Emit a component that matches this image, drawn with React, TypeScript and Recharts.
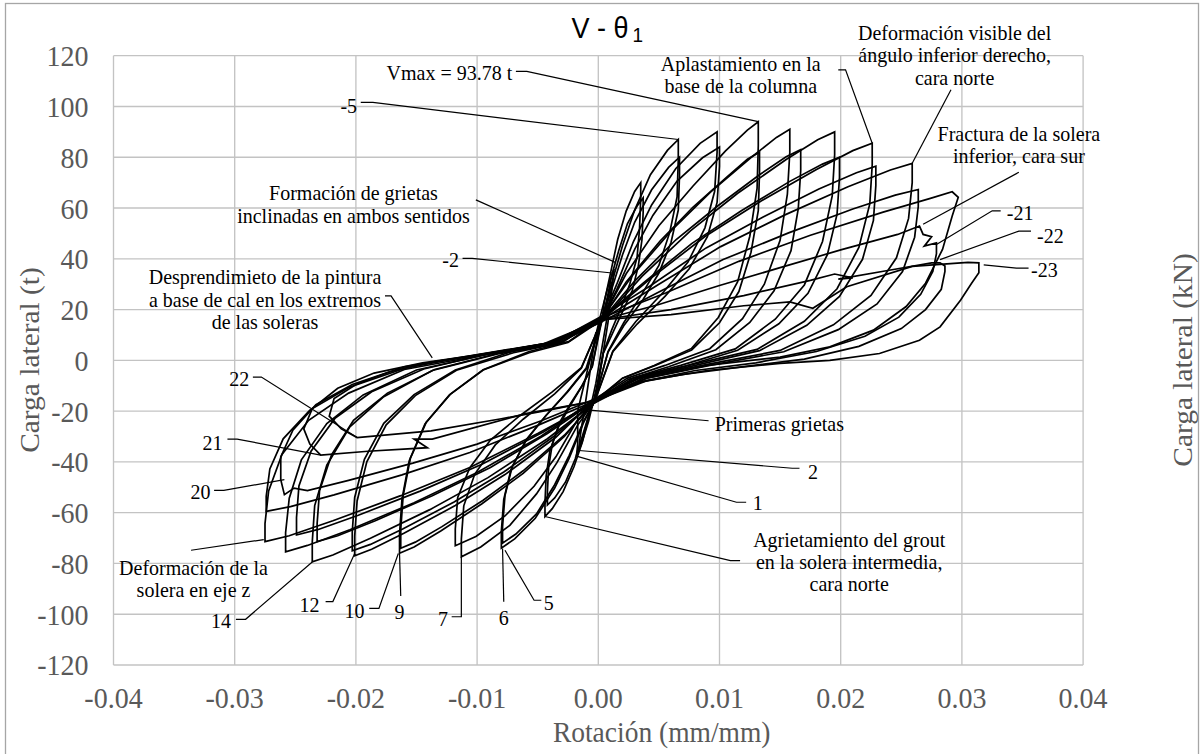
import React from 'react';
import { ComposedChart, Line, Scatter, XAxis, YAxis, CartesianGrid } from 'recharts';

type Pt = [number, number];

const xTicks = [-0.04, -0.03, -0.02, -0.01, 0, 0.01, 0.02, 0.03, 0.04];
const yTicks = [-120, -100, -80, -60, -40, -20, 0, 20, 40, 60, 80, 100, 120];
const kNTicks = [-1200, -1000, -800, -600, -400, -200, 0, 200, 400, 600, 800, 1000, 1200];

// Hysteresis cycles: rotation (mm/mm), lateral load (t)
const cyc01: Pt[] = [[-0.0002,9],[0.0004,18],[0.0009,27],[0.0011,30],[0.0011,27],[0.0008,15],[0.0003,0],[-0.0002,-12],[-0.0008,-24],[-0.0014,-33],[-0.0018,-37.7],[-0.0017,-33],[-0.0017,-20],[-0.0012,-10],[-0.0007,0],[-0.0002,9]];
const cyc02: Pt[] = [[-0.0002,10],[0.0002,18],[0.0008,29],[0.0013,36],[0.0012,31],[0.0008,19],[0.0003,5],[-0.0002,-9],[-0.0008,-22],[-0.0013,-31],[-0.0016,-35.5],[-0.0015,-30],[-0.0011,-18],[-0.0007,-5],[-0.0002,11]];
const cyc03: Pt[] = [[0.0003,16],[0.0005,23.1],[0.0011,36.4],[0.0016,47.6],[0.0023,58.8],[0.003,66.5],[0.0035,70],[0.0035,63.7],[0.0034,51.8],[0.0032,40.6],[0.0026,30.1],[0.0019,21],[0.0011,11.9],[0.0004,2.8],[-0.0003,-16],[-0.0007,-20.3],[-0.0013,-32],[-0.002,-41.8],[-0.0029,-51.7],[-0.0038,-58.4],[-0.0044,-61.5],[-0.0044,-56],[-0.0043,-45.5],[-0.004,-35.7],[-0.0033,-26.4],[-0.0024,-18.5],[-0.0014,-10.5],[-0.0005,-2.5],[0.0003,16]];
const cyc04: Pt[] = [[0.0002,15],[0.0006,21.1],[0.0011,33.3],[0.0017,43.5],[0.0024,53.8],[0.0032,60.8],[0.0037,64],[0.0037,58.2],[0.0036,47.4],[0.0033,37.1],[0.0028,27.5],[0.002,19.2],[0.0012,10.9],[0.0004,2.6],[-0.0002,-15],[-0.0006,-18.8],[-0.0013,-29.6],[-0.0019,-38.8],[-0.0027,-47.9],[-0.0036,-54.2],[-0.0042,-57],[-0.0042,-51.9],[-0.0041,-42.2],[-0.0038,-33.1],[-0.0032,-24.5],[-0.0023,-17.1],[-0.0013,-9.7],[-0.0005,-2.3],[0.0002,15]];
const cyc05: Pt[] = [[0.0003,16],[0.001,28.7],[0.002,45.2],[0.003,59.2],[0.0043,73.1],[0.0057,82.7],[0.0066,87],[0.0066,79.2],[0.0065,64.4],[0.0059,50.5],[0.005,37.4],[0.0036,26.1],[0.0021,14.8],[0.0008,3.5],[-0.0003,-16],[-0.0012,-24.4],[-0.0024,-38.5],[-0.0036,-50.3],[-0.0052,-62.2],[-0.0069,-70.3],[-0.008,-74],[-0.008,-67.3],[-0.0078,-54.8],[-0.0072,-42.9],[-0.006,-31.8],[-0.0044,-22.2],[-0.0026,-12.6],[-0.001,-3],[0.0003,16]];
const cyc06: Pt[] = [[0.0004,17],[0.001,26.4],[0.002,41.6],[0.003,54.4],[0.0044,67.2],[0.0058,76],[0.0067,80],[0.0067,72.8],[0.0066,59.2],[0.006,46.4],[0.005,34.4],[0.0037,24],[0.0021,13.6],[0.0008,3.2],[-0.0004,-17],[-0.0012,-23.8],[-0.0024,-37.4],[-0.0036,-49],[-0.0051,-60.5],[-0.0068,-68.4],[-0.0079,-72],[-0.0079,-65.5],[-0.0077,-53.3],[-0.0071,-41.8],[-0.0059,-31],[-0.0043,-21.6],[-0.0025,-12.2],[-0.0009,-2.9],[0.0004,17]];
const cyc07: Pt[] = [[0.0003,16],[0.0015,29.7],[0.0029,46.8],[0.0044,61.2],[0.0064,75.6],[0.0084,85.5],[0.0098,90],[0.0098,81.9],[0.0096,66.6],[0.0088,52.2],[0.0074,38.7],[0.0054,27],[0.0031,15.3],[0.0012,3.6],[-0.0003,-16],[-0.0017,-25.5],[-0.0034,-40.2],[-0.0051,-52.6],[-0.0073,-65],[-0.0097,-73.5],[-0.0113,-77.4],[-0.0113,-70.4],[-0.0111,-57.3],[-0.0102,-44.9],[-0.0085,-33.3],[-0.0062,-23.2],[-0.0036,-13.2],[-0.0014,-3.1],[0.0003,16]];
const cyc08: Pt[] = [[0.0005,18],[0.0015,27.7],[0.003,43.7],[0.0045,57.1],[0.0065,70.6],[0.0086,79.8],[0.01,84],[0.01,76.4],[0.0098,62.2],[0.009,48.7],[0.0075,36.1],[0.0055,25.2],[0.0032,14.3],[0.0012,3.4],[-0.0002,-15],[-0.0018,-24.1],[-0.0035,-38],[-0.0053,-49.6],[-0.0077,-61.3],[-0.0101,-69.4],[-0.0118,-73],[-0.0118,-66.4],[-0.0116,-54],[-0.0106,-42.3],[-0.0089,-31.4],[-0.0065,-21.9],[-0.0038,-12.4],[-0.0014,-2.9],[0.0005,18]];
const cyc09: Pt[] = [[0.0003,16],[0.0023,34.1],[0.005,53],[0.0078,68.6],[0.0105,82.5],[0.0123,90.7],[0.0132,94],[0.0132,84.6],[0.0131,67.7],[0.0125,48.9],[0.0115,31],[0.0099,16.9],[0.0077,4.7],[0.0046,-2],[0.002,-7],[-0.0003,-16],[-0.0028,-30],[-0.0062,-44.5],[-0.0096,-56.5],[-0.013,-67.2],[-0.0152,-73.5],[-0.0164,-76],[-0.0164,-68.4],[-0.0162,-54.7],[-0.0156,-39.5],[-0.0143,-25.1],[-0.0123,-13.7],[-0.0095,-3.8],[-0.0057,3],[-0.0025,7],[0.0003,16]];
const cyc10: Pt[] = [[0.0004,17],[0.0023,30.9],[0.0051,47],[0.0078,60.3],[0.0106,72.2],[0.0123,79.2],[0.0133,82],[0.0133,73.8],[0.0132,59],[0.0126,42.6],[0.0116,27.1],[0.01,14.8],[0.0077,4.1],[0.0047,-2],[0.002,-7],[-0.0004,-17],[-0.0028,-29.5],[-0.0062,-43.5],[-0.0095,-55.1],[-0.0129,-65.5],[-0.0151,-71.6],[-0.0163,-74],[-0.0163,-66.6],[-0.0161,-53.3],[-0.0155,-38.5],[-0.0142,-24.4],[-0.0122,-13.3],[-0.0095,-3.7],[-0.0057,3.5],[-0.0024,7.5],[0.0004,17]];
const cyc11: Pt[] = [[0.0005,18],[0.0028,33.3],[0.0061,51.5],[0.0093,66.5],[0.0126,79.9],[0.0147,87.8],[0.0158,91],[0.0158,81.9],[0.0156,65.5],[0.015,47.3],[0.0137,30],[0.0119,16.4],[0.0092,4.6],[0.0055,-2],[0.0024,-7],[-0.0002,-15],[-0.0035,-30.3],[-0.0077,-45],[-0.0118,-57.2],[-0.016,-68],[-0.0187,-74.4],[-0.0201,-77],[-0.0201,-69.3],[-0.0199,-55.4],[-0.0191,-40],[-0.0175,-25.4],[-0.0151,-13.9],[-0.0117,-3.9],[-0.007,3],[-0.003,7],[0.0005,18]];
const cyc12: Pt[] = [[0.0003,16],[0.003,31.2],[0.0064,47.5],[0.0099,61],[0.0133,73.1],[0.0155,80.2],[0.0167,83],[0.0167,74.7],[0.0165,59.8],[0.0159,43.2],[0.0145,27.4],[0.0125,14.9],[0.0097,4.2],[0.0058,-2.5],[0.0025,-7.5],[-0.0003,-16],[-0.0036,-29.7],[-0.0078,-44],[-0.0119,-55.8],[-0.0161,-66.3],[-0.0188,-72.5],[-0.0203,-75],[-0.0203,-67.5],[-0.0201,-54],[-0.0193,-39],[-0.0177,-24.8],[-0.0152,-13.5],[-0.0118,-3.8],[-0.0071,3.5],[-0.003,7.5],[0.0003,16]];
const cyc13: Pt[] = [[0.0002,15],[0.0036,33.1],[0.0076,51],[0.0115,65.8],[0.0155,79.1],[0.0181,86.9],[0.0195,90],[0.0195,81],[0.0193,64.8],[0.0185,46.8],[0.017,29.7],[0.0146,16.2],[0.0113,4.5],[0.0068,-2],[0.0029,-7],[-0.0004,-17],[-0.0042,-30.9],[-0.0091,-46.2],[-0.0139,-58.8],[-0.0188,-70.1],[-0.0219,-76.7],[-0.0236,-79.4],[-0.0236,-71.5],[-0.0234,-57.2],[-0.0224,-41.3],[-0.0205,-26.2],[-0.0177,-14.3],[-0.0137,-4],[-0.0083,2.5],[-0.0035,6.5],[0.0002,15]];
const cyc14: Pt[] = [[0.0004,17],[0.0037,30.4],[0.0077,46],[0.0118,58.9],[0.0158,70.5],[0.0185,77.3],[0.0199,80],[0.0199,72],[0.0197,57.6],[0.0189,41.6],[0.0173,26.4],[0.0149,14.4],[0.0115,4],[0.007,-2.5],[0.003,-7.5],[-0.0003,-16],[-0.0042,-28.8],[-0.0089,-42.2],[-0.0137,-53.3],[-0.0184,-63.2],[-0.0215,-69.1],[-0.0232,-71.4],[-0.0232,-64.3],[-0.023,-51.4],[-0.022,-37.1],[-0.0202,-23.6],[-0.0174,-12.9],[-0.0135,-3.6],[-0.0081,3],[-0.0035,7],[0.0004,17]];
const cyc15: Pt[] = [[0.0003,16],[0.0042,31.8],[0.0088,48.8],[0.0134,62.7],[0.018,75.2],[0.021,82.6],[0.0226,85.5],[0.0226,77],[0.0224,61.6],[0.0215,44.5],[0.0197,28.2],[0.017,15.4],[0.0131,4.3],[0.0079,-1.5],[0.0034,-6.5],[-0.0002,-15],[-0.0047,-29.8],[-0.01,-44.2],[-0.0152,-56.1],[-0.0205,-66.7],[-0.024,-72.9],[-0.0258,-75.4],[-0.0258,-67.9],[-0.0255,-54.3],[-0.0245,-39.2],[-0.0224,-24.9],[-0.0194,-13.6],[-0.015,-3.8],[-0.009,2.5],[-0.0039,6.5],[0.0003,16]];
const cyc16: Pt[] = [[0.0005,18],[0.0043,29.4],[0.0089,44.3],[0.0136,56.5],[0.0182,67.5],[0.0213,73.9],[0.0229,76.5],[0.0229,68.9],[0.0227,55.1],[0.0218,39.8],[0.0199,25.2],[0.0172,13.8],[0.0133,3.8],[0.008,-2],[0.0034,-7],[-0.0003,-16],[-0.0045,-28.1],[-0.0096,-40.9],[-0.0147,-51.5],[-0.0198,-61],[-0.0231,-66.6],[-0.0249,-68.8],[-0.0249,-61.9],[-0.0247,-49.5],[-0.0237,-35.8],[-0.0217,-22.7],[-0.0187,-12.4],[-0.0144,-3.4],[-0.0087,3],[-0.0037,7],[0.0005,18]];
const cyc17: Pt[] = [[0.0003,16],[0.0049,29.7],[0.0101,44.8],[0.0154,57.3],[0.0206,68.4],[0.0241,75],[0.0259,77.6],[0.0259,70],[0.0256,55.9],[0.0246,40.4],[0.0225,25.6],[0.0194,14],[0.015,3.9],[0.0091,-1.5],[0.0039,-6.5],[-0.0004,-17],[-0.005,-28.8],[-0.0106,-42.2],[-0.0163,-53.3],[-0.0219,-63.2],[-0.0255,-69.1],[-0.0275,-71.4],[-0.0275,-64.3],[-0.0272,-51.4],[-0.0261,-37.1],[-0.0239,-23.6],[-0.0206,-12.9],[-0.016,-3.6],[-0.0096,2],[-0.0041,6],[0.0003,16]];
const cyc18: Pt[] = [[0.0002,15],[0.005,26.9],[0.0103,39.7],[0.0157,50.2],[0.021,59.6],[0.0245,65.1],[0.0264,67.3],[0.0264,60.6],[0.0261,48.5],[0.0251,35],[0.023,22.2],[0.0198,12.1],[0.0153,3.4],[0.0092,-2],[0.004,-7],[-0.0003,-16],[-0.005,-25.6],[-0.0106,-36.3],[-0.0162,-45.1],[-0.0218,-53],[-0.0254,-57.6],[-0.0274,-59.5],[-0.0274,-53.6],[-0.0271,-42.8],[-0.026,-30.9],[-0.0238,-19.6],[-0.0206,-10.7],[-0.0159,-3],[-0.0096,2.5],[-0.0041,6.5],[0.0002,15]];
const cyc19: Pt[] = [[0.0004,17],[0.0056,26.6],[0.0116,39],[0.0175,49.3],[0.0235,58.4],[0.0274,63.8],[0.0292,66.4],[0.0297,64.2],[0.0292,56.9],[0.0284,43.7],[0.027,30.4],[0.0254,21.2],[0.0227,11.9],[0.0191,5.3],[0.015,1.3],[0.009,-2],[0.004,-7],[-0.0002,-15],[-0.0047,-23.8],[-0.01,-33],[-0.0153,-40.5],[-0.0206,-47.3],[-0.024,-51.3],[-0.0251,-50.3],[-0.0259,-52.9],[-0.0262,-47],[-0.0262,-38],[-0.0252,-27.5],[-0.0233,-17.5],[-0.0203,-9.5],[-0.016,-2.6],[-0.0091,3],[-0.0039,7],[0.0004,17]];
const cyc20: Pt[] = [[0.0003,16],[0.005,22],[0.01,29.5],[0.015,36.5],[0.02,43.5],[0.0247,49.6],[0.0265,52.9],[0.0268,49.6],[0.0275,48.7],[0.0269,45],[0.0279,46.3],[0.0279,42],[0.0276,35],[0.0266,26],[0.0248,17],[0.022,9.5],[0.018,3.5],[0.013,-1],[0.008,-4],[0.0035,-8.5],[-0.0003,-16],[-0.006,-21],[-0.0137,-31],[-0.0152,-31],[-0.0141,-34.4],[-0.019,-35.8],[-0.0229,-37.3],[-0.0238,-33],[-0.0243,-27],[-0.0236,-19],[-0.0215,-11],[-0.0185,-5],[-0.0145,-1],[-0.0095,2.5],[-0.0045,6.5],[0.0003,16]];
const cyc21: Pt[] = [[0.0003,16],[0.006,20],[0.012,25.5],[0.0175,31.5],[0.0195,34],[0.021,32.5],[0.0198,32],[0.024,35.5],[0.0275,38.4],[0.0282,38.4],[0.0286,37.2],[0.0286,35],[0.0283,28],[0.027,20],[0.025,12.5],[0.0215,5.5],[0.017,0.5],[0.012,-2.5],[0.007,-5.5],[0.003,-9],[-0.0003,-16],[-0.004,-19.5],[-0.008,-23],[-0.0138,-27.8],[-0.0199,-30.4],[-0.0212,-27],[-0.0222,-22],[-0.0218,-15],[-0.02,-9.5],[-0.0172,-4.5],[-0.0135,-0.5],[-0.0085,3],[-0.004,7],[0.0003,16]];
const cyc22: Pt[] = [[0.0003,16],[0.006,18],[0.012,21.5],[0.0158,23],[0.0177,20.5],[0.0205,29],[0.0259,37],[0.0305,38.6],[0.0314,38.4],[0.0314,34.5],[0.0308,30.4],[0.0299,23.8],[0.0282,13.2],[0.0265,7.9],[0.0232,2.7],[0.0191,0],[0.015,-1.2],[0.009,-4],[0.004,-8],[-0.0003,-16]];

const cycles: Pt[][] = [cyc01, cyc02, cyc03, cyc04, cyc05, cyc06, cyc07, cyc08, cyc09, cyc10, cyc11, cyc12, cyc13, cyc14, cyc15, cyc16, cyc17, cyc18, cyc19, cyc20, cyc21, cyc22];

// Annotation leader lines (data coordinates)
const leaders: Pt[][] = [
  [[-0.0068,113.8],[-0.0059,113.8],[0.0132,94]],
  [[-0.0196,101.6],[-0.0186,101.6],[0.0066,87]],
  [[-0.0101,63.2],[0.0014,38.6]],
  [[-0.0112,40.2],[-0.0104,40.2],[0.00113,34.4]],
  [[-0.0176,25.4],[-0.0171,25.4],[-0.0137,1]],
  [[0.0198,114.4],[0.0204,114.4],[0.0226,85.5]],
  [[0.0291,106.6],[0.0259,77.6]],
  [[0.0347,74.1],[0.0268,53.6]],
  [[0.0332,58.9],[0.0325,58.9],[0.0279,45.6]],
  [[0.0357,50.9],[0.0347,50.9],[0.0282,39.7]],
  [[0.0355,36.3],[0.0345,36.3],[0.0318,37.6]],
  [[-0.0285,-6.6],[-0.0278,-6.6],[-0.0199,-30.4]],
  [[-0.0306,-31],[-0.0298,-31],[-0.0229,-37.3]],
  [[-0.0317,-51.2],[-0.0309,-51.2],[-0.0259,-47]],
  [[-0.0336,-74.8],[-0.0276,-70.6]],
  [[-0.0299,-102],[-0.0291,-102],[-0.0236,-79.4]],
  [[-0.0225,-95],[-0.0219,-95],[-0.0201,-76.1]],
  [[-0.0189,-97.7],[-0.0181,-97.7],[-0.0165,-76.1]],
  [[-0.0163,-92.8],[-0.0164,-76.1]],
  [[-0.0121,-101],[-0.0113,-101],[-0.0113,-77.4]],
  [[-0.0078,-95.1],[-0.0079,-74.1]],
  [[-0.0047,-94.5],[-0.0053,-94.5],[-0.0077,-74.8]],
  [[0.0091,-23.8],[-0.0007,-19.6]],
  [[0.0166,-42.5],[0.016,-42.5],[-0.0016,-35.5]],
  [[0.0122,-55.9],[0.0114,-55.9],[-0.0018,-37.7]],
  [[0.0117,-78.9],[0.0109,-78.9],[-0.0044,-61.5]],
];

// Annotation texts
const notes = [
  { x: -0.0071, y: 113.4, anchor: 'end', first: 0, lines: ['Vmax = 93.78 t'] },
  { x: -0.0199, y: 100.3, anchor: 'end', first: 0, lines: ['-5'] },
  { x: -0.0202, y: 66, anchor: 'middle', first: 0, lines: ['Formación de grietas', 'inclinadas en ambos sentidos'] },
  { x: -0.0115, y: 39.7, anchor: 'end', first: 0, lines: ['-2'] },
  { x: -0.0275, y: 32.9, anchor: 'middle', first: 0, lines: ['Desprendimieto de la pintura', 'a base de cal en los extremos', 'de las soleras'] },
  { x: 0.01175, y: 117.1, anchor: 'middle', first: 0, lines: ['Aplastamiento en la', 'base de la columna'] },
  { x: 0.0294, y: 111.6, anchor: 'middle', first: -2, lines: ['Deformación visible del', 'ángulo inferior derecho,', 'cara norte'] },
  { x: 0.0347, y: 89.5, anchor: 'middle', first: 0, lines: ['Fractura de la solera', 'inferior, cara sur'] },
  { x: 0.0337, y: 58.2, anchor: 'start', first: 0, lines: ['-21'] },
  { x: 0.0362, y: 49.3, anchor: 'start', first: 0, lines: ['-22'] },
  { x: 0.0357, y: 35.8, anchor: 'start', first: 0, lines: ['-23'] },
  { x: -0.0288, y: -7.3, anchor: 'end', first: 0, lines: ['22'] },
  { x: -0.031, y: -32.2, anchor: 'end', first: 0, lines: ['21'] },
  { x: -0.032, y: -51.8, anchor: 'end', first: 0, lines: ['20'] },
  { x: -0.0334, y: -81.6, anchor: 'middle', first: 0, lines: ['Deformación de la', 'solera en eje z'] },
  { x: -0.0303, y: -102.6, anchor: 'end', first: 0, lines: ['14'] },
  { x: -0.023, y: -96, anchor: 'end', first: 0, lines: ['12'] },
  { x: -0.0193, y: -98.4, anchor: 'end', first: 0, lines: ['10'] },
  { x: -0.0164, y: -99, anchor: 'middle', first: 0, lines: ['9'] },
  { x: -0.0124, y: -101.7, anchor: 'end', first: 0, lines: ['7'] },
  { x: -0.0078, y: -101.3, anchor: 'middle', first: 0, lines: ['6'] },
  { x: -0.0045, y: -95.5, anchor: 'start', first: 0, lines: ['5'] },
  { x: 0.0096, y: -24.8, anchor: 'start', first: 0, lines: ['Primeras grietas'] },
  { x: 0.0173, y: -43.6, anchor: 'start', first: 0, lines: ['2'] },
  { x: 0.01275, y: -55.9, anchor: 'start', first: 0, lines: ['1'] },
  { x: 0.0207, y: -70.4, anchor: 'middle', first: 0, lines: ['Agrietamiento del grout', 'en la solera intermedia,', 'cara norte'] },
];

const S = 1.07;
const LH = 22.3;
const SERIF = 'Liberation Serif, Times New Roman, serif';
const GRAY = '#595959';

const toObj = (a: Pt[]) => a.map(([x, y]) => ({ x, y }));

const mkTick = (anchor: string, fmt: (v: number) => string, dy: string) => (props: any) => {
  const { x, y, payload } = props;
  return (
    <text transform={`translate(${x},${y}) scale(1,${S})`} textAnchor={anchor as any} dy={dy}
      fill={GRAY} fontSize={28} fontFamily={SERIF}>{fmt(payload.value)}</text>
  );
};

const NoteShape = (props: any) => {
  const { cx, cy } = props;
  const p = props.payload || props;
  if (cx == null || cy == null) return <g />;
  return (
    <g>
      {p.lines.map((t: string, i: number) => (
        <text key={i} transform={`translate(${cx},${cy + (p.first + i) * LH}) scale(1,${S})`}
          textAnchor={p.anchor} dy="0.35em" fontSize={20} fontFamily={SERIF} fill="#000">{t}</text>
      ))}
    </g>
  );
};

export default function App() {
  return (
    <div style={{ position: 'absolute', left: 0, top: 0, width: 1204, height: 754, background: '#fff', overflow: 'hidden' }}>
      <ComposedChart width={1204} height={754} margin={{ top: 55.7, right: 0, bottom: 29, left: 0 }}>
        <CartesianGrid stroke="#C3C3C3" strokeWidth={1.33} />
        <XAxis type="number" dataKey="x" domain={[-0.04, 0.04]} ticks={xTicks} interval={0}
          axisLine={false} tickLine={false} tickSize={0} tickMargin={22} height={60}
          tick={mkTick('middle', (v) => v.toFixed(2), '0.71em')} />
        <YAxis type="number" dataKey="y" domain={[-120, 120]} ticks={yTicks} interval={0}
          axisLine={false} tickLine={false} tickSize={0} tickMargin={25} width={113.5}
          tick={mkTick('end', (v) => String(v), '0.35em')} />
        <YAxis yAxisId="kN" orientation="right" type="number" domain={[-1200, 1200]} ticks={kNTicks} interval={0}
          axisLine={false} tickLine={false} tickSize={0} tickMargin={25} width={120.9}
          tick={mkTick('start', (v) => String(v), '0.35em')} />
        {cycles.map((c, i) => (
          <Line key={'c' + i} data={toObj(c)} dataKey="y" type="linear" stroke="#000" strokeWidth={1.7}
            dot={false} activeDot={false} isAnimationActive={false} />
        ))}
        {leaders.map((c, i) => (
          <Line key={'l' + i} data={toObj(c)} dataKey="y" type="linear" stroke="#000" strokeWidth={1.2}
            dot={false} activeDot={false} isAnimationActive={false} />
        ))}
        <Scatter data={notes} dataKey="y" shape={NoteShape} isAnimationActive={false} />
      </ComposedChart>
      <svg width={1204} height={754} style={{ position: 'absolute', left: 0, top: 0, pointerEvents: 'none' }}>
        <rect x={5.5} y={3.5} width={1193} height={760} fill="none" stroke="#A6A6A6" strokeWidth={1.3} />
        <text transform="translate(571.5,38.3) scale(1,1.1)" fontFamily="Liberation Sans, Arial, sans-serif" fontSize={27} fill="#000">
          V - θ<tspan fontSize={19} dx={4} dy={3.2}>1</tspan>
        </text>
        <text transform="translate(39,360) rotate(-90) scale(1.07,1)" textAnchor="middle" fontFamily={SERIF} fontSize={27.5} fill={GRAY}>Carga lateral (t)</text>
        <text transform="translate(1192,360) rotate(-90) scale(1.07,1)" textAnchor="middle" fontFamily={SERIF} fontSize={27.5} fill={GRAY}>Carga lateral (kN)</text>
        <text transform="translate(661.7,742) scale(1,1.07)" textAnchor="middle" fontFamily={SERIF} fontSize={27.5} fill={GRAY}>Rotación (mm/mm)</text>
      </svg>
    </div>
  );
}
